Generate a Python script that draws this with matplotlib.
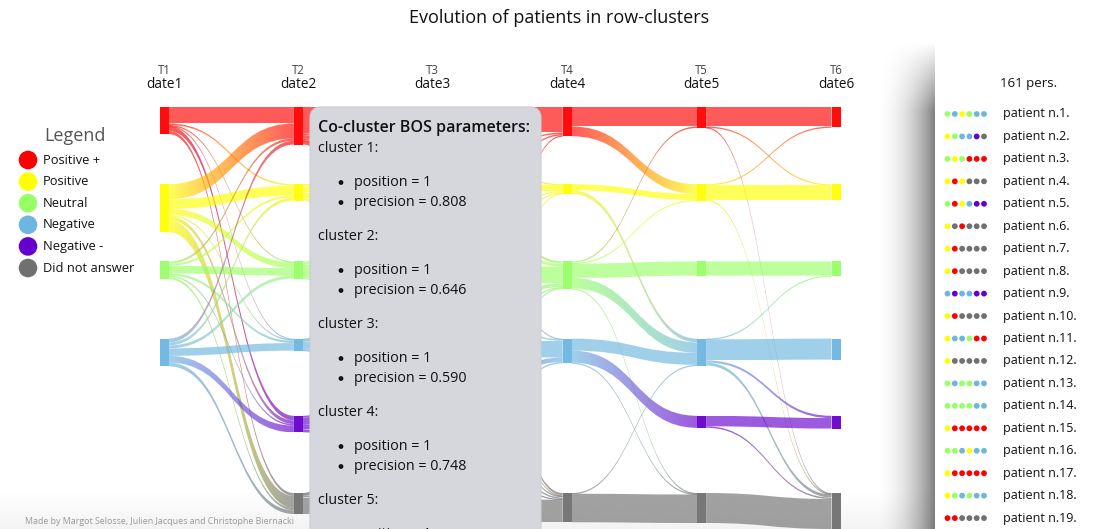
import numpy as np
import matplotlib
matplotlib.use('Agg')
import matplotlib.pyplot as plt
from matplotlib.path import Path
from matplotlib.patches import PathPatch, FancyBboxPatch, Rectangle, Circle
from matplotlib.colors import to_rgb

plt.rcParams['font.family'] = ['Open Sans', 'DejaVu Sans']

# ---------------- data ----------------
title = "Evolution of patients in row-clusters"
categories = ['Positive +', 'Positive', 'Neutral', 'Negative', 'Negative -', 'Did not answer']
codes = ['R', 'Y', 'G', 'B', 'P', 'D']
cat_colors = ['#FF0000', '#FFFF00', '#99FF66', '#6DB6E0', '#6600CC', '#707070']
time_labels = ['T1', 'T2', 'T3', 'T4', 'T5', 'T6']
date_labels = ['date1', 'date2', 'date3', 'date4', 'date5', 'date6']

# transition counts between consecutive dates (rows: source cluster, cols: target cluster)
flows_t1_t2 = [[22, 2, 1, 1, 6, 4],
               [20, 13, 8, 2, 5, 16],
               [3, 3, 10, 3, 2, 3],
               [5, 4, 4, 10, 9, 5],
               [0, 0, 0, 0, 0, 0],
               [0, 0, 0, 0, 0, 0]]
flows_t2_t3 = [[35, 3, 4, 2, 1, 5],
               [3, 8, 6, 2, 0, 3],
               [2, 2, 14, 4, 0, 1],
               [1, 1, 2, 10, 1, 1],
               [0, 0, 2, 10, 6, 4],
               [1, 1, 2, 2, 0, 22]]
flows_t3_t4 = [[34, 1, 3, 1, 0, 3],
               [2, 8, 4, 0, 0, 1],
               [2, 2, 22, 2, 0, 2],
               [0, 1, 5, 22, 0, 2],
               [0, 0, 1, 6, 0, 1],
               [1, 1, 2, 2, 0, 30]]
flows_t4_t5 = [[26, 13, 0, 0, 0, 0],
               [0, 8, 0, 5, 0, 0],
               [2, 1, 19, 14, 0, 1],
               [0, 0, 0, 16, 16, 1],
               [0, 0, 0, 0, 0, 0],
               [0, 0, 0, 1, 0, 38]]
flows_t5_t6 = [[26, 1, 0, 0, 0, 1],
               [1, 20, 0, 0, 0, 1],
               [0, 0, 19, 0, 0, 0],
               [0, 0, 1, 28, 3, 4],
               [0, 0, 0, 0, 14, 2],
               [0, 0, 0, 0, 0, 40]]
all_flows = [flows_t1_t2, flows_t2_t3, flows_t3_t4, flows_t4_t5, flows_t5_t6]

tooltip_title = "Co-cluster BOS parameters:"
cluster_names = ['cluster 1:', 'cluster 2:', 'cluster 3:', 'cluster 4:', 'cluster 5:']
cluster_position = [1, 1, 1, 1, 1]
cluster_precision = ['0.808', '0.646', '0.590', '0.748', '']

n_persons = 161
patient_labels = ['patient n.%d.' % i for i in range(1, 20)]
patient_paths = ["GBYGBB", "YGBBPD", "GYGRRR", "YRYDDD", "GRYBPP", "YDRDDD",
                 "YRDDDD", "YRDDDD", "BPBBPP", "YRDDDD", "YBBGRR", "YDDDDD",
                 "GBGGBB", "GGGGBB", "YRRRRR", "GGBYBB", "YRRRRR", "YGBGBB",
                 "RRDDDD"]
footer = "Made by Margot Selosse, Julien Jacques and Christophe Biernacki"

# ---------------- layout ----------------
W, H = 1120, 529
fig = plt.figure(figsize=(W / 100, H / 100), dpi=100)
ax = fig.add_axes([0, 0, 1, 1])
ax.set_xlim(0, W)
ax.set_ylim(H, 0)
ax.axis('off')

col_x0, col_step = 164.0, 134.4
cat_y0, cat_step = 107.0, 77.2
scale = 0.75      # px per person
node_w = 9.0
alpha_link = 0.65
min_draw_w = 1.3  # thin links stay visible

col_x = [col_x0 + i * col_step for i in range(6)]
cat_y = [cat_y0 + j * cat_step for j in range(6)]

# node sizes per date
node_counts = [np.array(f).sum(axis=1) for f in all_flows]
node_counts.append(np.array(all_flows[-1]).sum(axis=0))

rgb = [np.array(to_rgb(c)) for c in cat_colors]


def draw_link(x0, x1, y0, y1, w, c0, c1):
    xm = (x0 + x1) / 2
    verts = [(x0, y0), (xm, y0), (xm, y1), (x1, y1),
             (x1, y1 + w), (xm, y1 + w), (xm, y0 + w), (x0, y0 + w), (x0, y0)]
    cds = [Path.MOVETO, Path.CURVE4, Path.CURVE4, Path.CURVE4,
           Path.LINETO, Path.CURVE4, Path.CURVE4, Path.CURVE4, Path.CLOSEPOLY]
    patch = PathPatch(Path(verts, cds), fc='none', ec='none')
    ax.add_patch(patch)
    g = np.linspace(0, 1, 64)[:, None]
    img = np.zeros((1, 64, 4))
    img[0, :, :3] = c0 * (1 - g) + c1 * g
    img[0, :, 3] = alpha_link
    ymin, ymax = min(y0, y1), max(y0, y1) + w
    im = ax.imshow(img, extent=(x0, x1, ymax, ymin), aspect='auto',
                   interpolation='bilinear', zorder=2)
    im.set_clip_path(patch)


for t, fl in enumerate(all_flows):
    fl = np.array(fl)
    out_off = np.zeros(6)
    for i in range(6):
        for j in range(6):
            v = fl[i, j]
            if v <= 0:
                continue
            w = v * scale
            y0 = cat_y[i] + out_off[i]
            out_off[i] += w
            y1 = cat_y[j] + sum(fl[k, j] for k in range(i)) * scale
            draw_link(col_x[t] + node_w / 2, col_x[t + 1] - node_w / 2,
                      y0, y1, max(w, min_draw_w), rgb[i], rgb[j])

# nodes
for t in range(6):
    for j in range(6):
        c = node_counts[t][j]
        if c <= 0:
            continue
        ax.add_patch(Rectangle((col_x[t] - node_w / 2, cat_y[j]), node_w, c * scale,
                               fc=cat_colors[j], ec='none', alpha=0.95, zorder=3))

# column headers
for t in range(6):
    ax.text(col_x[t], 71, time_labels[t], ha='center', va='center', fontsize=8.3, color='#444444')
    ax.text(col_x[t], 84, date_labels[t], ha='center', va='center', fontsize=9.8, color='#111111')

# title
ax.text(559, 18, title, ha='center', va='center', fontsize=13, color='#111111')

# legend
ax.text(75, 136, 'Legend', ha='center', va='center', fontsize=13, color='#555555')
for j, (lab, col) in enumerate(zip(categories, cat_colors)):
    y = 160 + j * 21.6
    ax.add_patch(Circle((28, y), 9.3, fc=col, ec='none', zorder=4))
    ax.text(43, y, lab, ha='left', va='center', fontsize=9.3, color='#111111')

# tooltip box
ax.add_patch(FancyBboxPatch((310, 107), 231, 440, boxstyle='round,pad=0,rounding_size=11',
                            fc='#D6D7DC', ec='#CDCED3', lw=0.8, zorder=5))
ax.text(318, 128, tooltip_title, ha='left', va='center', fontsize=11.5,
        fontweight='semibold', color='#111111', zorder=6)
for k, name in enumerate(cluster_names):
    yb = 148 + 88 * k
    ax.text(318, yb, name, ha='left', va='center', fontsize=10.3, color='#111111', zorder=6,
            clip_on=True)
    lines = ['position = %d' % cluster_position[k]]
    if cluster_precision[k]:
        lines.append('precision = ' + cluster_precision[k])
    for m, ln in enumerate(lines):
        yy = yb + 34 + 20 * m
        ax.add_patch(Circle((341, yy + 0.5), 2.4, fc='#111111', ec='none', zorder=6))
        ax.text(354, yy, ln, ha='left', va='center', fontsize=10.3, color='#111111',
                zorder=6, clip_on=True)

# right panel shadow
sx0, sx1, sy0 = 872, 935, 40
nx, ny = 80, 120
xs = np.linspace(0, 1, nx)
ys = np.linspace(0, 1, ny)
fx = xs ** 2.2 * 0.5
gy = np.clip((ys * (H - sy0)) / 70.0, 0, 1)
shadow = np.zeros((ny, nx, 4))
shadow[..., 3] = gy[:, None] * fx[None, :]
ax.imshow(shadow, extent=(sx0, sx1, H, sy0), aspect='auto', interpolation='bilinear', zorder=1)
ax.add_patch(Rectangle((935, sy0), W - 935, H - sy0, fc='white', ec='none', zorder=1.5))

# patient panel
ax.text(1029, 83, '%d pers.' % n_persons, ha='center', va='center', fontsize=9.5, color='#111111')
code_color = dict(zip(codes, cat_colors))
for r, (lab, path) in enumerate(zip(patient_labels, patient_paths)):
    y = 114 + r * 22.45
    for m, ch in enumerate(path):
        ax.add_patch(Circle((947.5 + m * 7.3, y), 2.9, fc=code_color[ch], ec='none', zorder=4))
    ax.text(1003, y, lab, ha='left', va='center', fontsize=9, color='#111111')

# faint bottom shading
bot = np.zeros((40, 2, 4))
bot[..., 3] = np.linspace(0, 0.05, 40)[:, None]
ax.imshow(bot, extent=(0, 935, H, H - 40), aspect='auto', interpolation='bilinear', zorder=0.5)

ax.text(25, 521, footer, ha='left', va='center', fontsize=6.4, color='#999999')

ax.set_xlim(0, W)
ax.set_ylim(H, 0)
fig.savefig('out.png', dpi=100)
